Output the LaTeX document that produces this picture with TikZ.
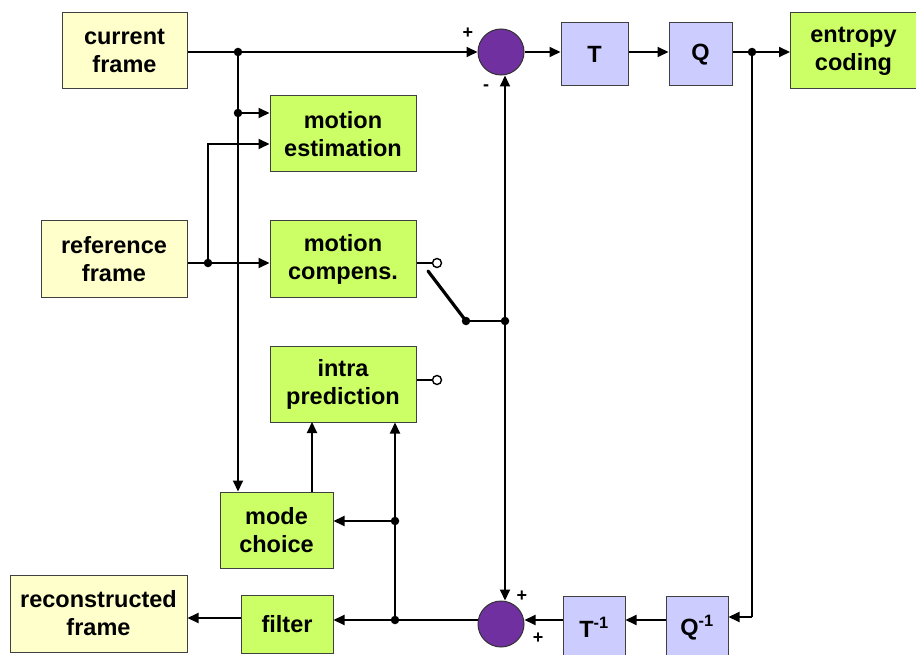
\documentclass[tikz,border=0pt]{standalone}
\usepackage{fontspec}
\setmainfont{Liberation Sans}
\usetikzlibrary{arrows.meta}
\definecolor{inyellow}{HTML}{FFFFCC}
\definecolor{procgreen}{HTML}{CCFF66}
\definecolor{tqblue}{HTML}{CCCCFF}
\definecolor{sumpurple}{HTML}{7030A0}
\tikzset{
  blk/.style={draw=black!75, line width=1pt, align=center, inner sep=0pt,
    font=\fontsize{23.5}{28}\selectfont\bfseries},
  yel/.style={blk, fill=inyellow},
  grn/.style={blk, fill=procgreen},
  blu/.style={blk, fill=tqblue},
  adder/.style={circle, draw=black!80, line width=1pt, fill=sumpurple, minimum size=46pt, inner sep=0pt},
  wire/.style={line width=2pt},
  arr/.style={wire, -{Triangle[length=11pt,width=10pt]}},
  dotj/.style={circle, fill=black, minimum size=8.5pt, inner sep=0pt},
  opencirc/.style={circle, draw=black, fill=white, line width=1.4pt, minimum size=9pt, inner sep=0pt},
  sign/.style={font=\fontsize{18}{18}\selectfont\bfseries, inner sep=0pt}
}
\begin{document}
\begin{tikzpicture}[x=1pt, y=-1pt]
\useasboundingbox (0,0) rectangle (916,655);
\clip (0,0) rectangle (916,655);
% blocks
\node[yel, minimum width=125pt, minimum height=76pt] (cur) at (124.5,51) {current\\frame};
\node[yel, minimum width=146pt, minimum height=76pt] (ref) at (114,259) {reference\\frame};
\node[yel, minimum width=177pt, minimum height=77pt] (rec) at (98.5,613.5) {reconstructed\\frame};
\node[grn, minimum width=146pt, minimum height=76pt] (me) at (343,134) {motion\\estimation};
\node[grn, minimum width=146pt, minimum height=76pt] (mc) at (343,259) {motion\\compens.};
\node[grn, minimum width=146pt, minimum height=76pt] (ip) at (343,384) {intra\\prediction};
\node[grn, minimum width=113pt, minimum height=76pt] (mode) at (276.5,530) {mode\\choice};
\node[grn, minimum width=92pt, minimum height=58pt] (filt) at (287,624) {filter};
\node[grn, minimum width=126pt, minimum height=76pt] (ent) at (853.5,51) {entropy\\coding};
\node[blu, minimum width=67pt, minimum height=63pt] (T) at (594.5,54.5) {T};
\node[blu, minimum width=63pt, minimum height=63pt] (Q) at (700.5,54.5) {Q};
\node[blu, minimum width=62pt, minimum height=63pt] (Ti) at (594,627.5) {T\textsuperscript{-1}};
\node[blu, minimum width=62pt, minimum height=63pt] (Qi) at (697,627.5) {Q\textsuperscript{-1}};
\node[adder] (st) at (501,52) {};
\node[adder] (sb) at (501,624) {};
% junction points
\coordinate (jcur) at (238,52);
\coordinate (jme) at (238,113);
\coordinate (jref) at (208,263);
\coordinate (jrefup) at (208,144);
\coordinate (sw) at (466,321);
\coordinate (jpred) at (505,321);
\coordinate (jq) at (752,52);
\coordinate (jqd) at (752,617);
\coordinate (jrec) at (395,620);
\coordinate (jmode) at (395,521);
\node[opencirc] (mcout) at (437,263) {};
\node[opencirc] (ipout) at (437,380) {};
\coordinate (swtop) at (428,271);
% forward path
\draw[arr] (cur.east |- jcur) -- (st.west);
\draw[arr] (st.east) -- (T.west |- st);
\draw[arr] (T.east |- st) -- (Q.west |- st);
\draw[wire] (Q.east |- st) -- (jq);
\draw[arr] (jq) -- (ent.west |- jq);
% current frame branches
\draw[arr] (jcur) -- (jcur |- mode.north);
\draw[arr] (jme) -- (jme -| me.west);
% reference frame branches
\draw[arr] (ref.east |- jref) -- (jref -| mc.west);
\draw[arr] (jref) -- (jrefup) -- (jrefup -| me.west);
% prediction outputs and switch
\draw[wire] (mc.east |- mcout) -- (mcout.west);
\draw[wire] (ip.east |- ipout) -- (ipout.west);
\draw[line width=3.2pt, line cap=round] (swtop) -- (sw);
\draw[wire] (sw) -- (jpred);
\draw[arr] (jpred) -- (jpred |- st.south);
\draw[arr] (jpred) -- (jpred |- sb.north);
% reconstruction loop
\draw[wire] (jq) -- (jqd);
\draw[arr] (jqd) -- (jqd -| Qi.east);
\draw[arr] (Qi.west |- jrec) -- (Ti.east |- jrec);
\draw[arr] (Ti.west |- jrec) -- (sb.east |- jrec);
\draw[wire] (sb.west |- jrec) -- (jrec);
\draw[arr] (jrec) -- (filt.east |- jrec);
\draw[arr] (filt.west |- 0,618) -- (rec.east |- 0,618);
\draw[arr] (jrec) -- (jrec |- ip.south);
\draw[arr] (jmode) -- (jmode -| mode.east);
\draw[arr] (312,492) -- (312,422);
% junction dots
\foreach \p in {jcur,jme,jref,sw,jpred,jq,jrec,jmode}
  \node[dotj] at (\p) {};
% signs at the adders
\node[sign] (pt) at (468,33) {+};
\node[sign] (mt) at (486,88) {-};
\node[sign] (pb1) at (522,596) {+};
\node[sign] (pb2) at (538,638) {+};
\end{tikzpicture}
\end{document}
